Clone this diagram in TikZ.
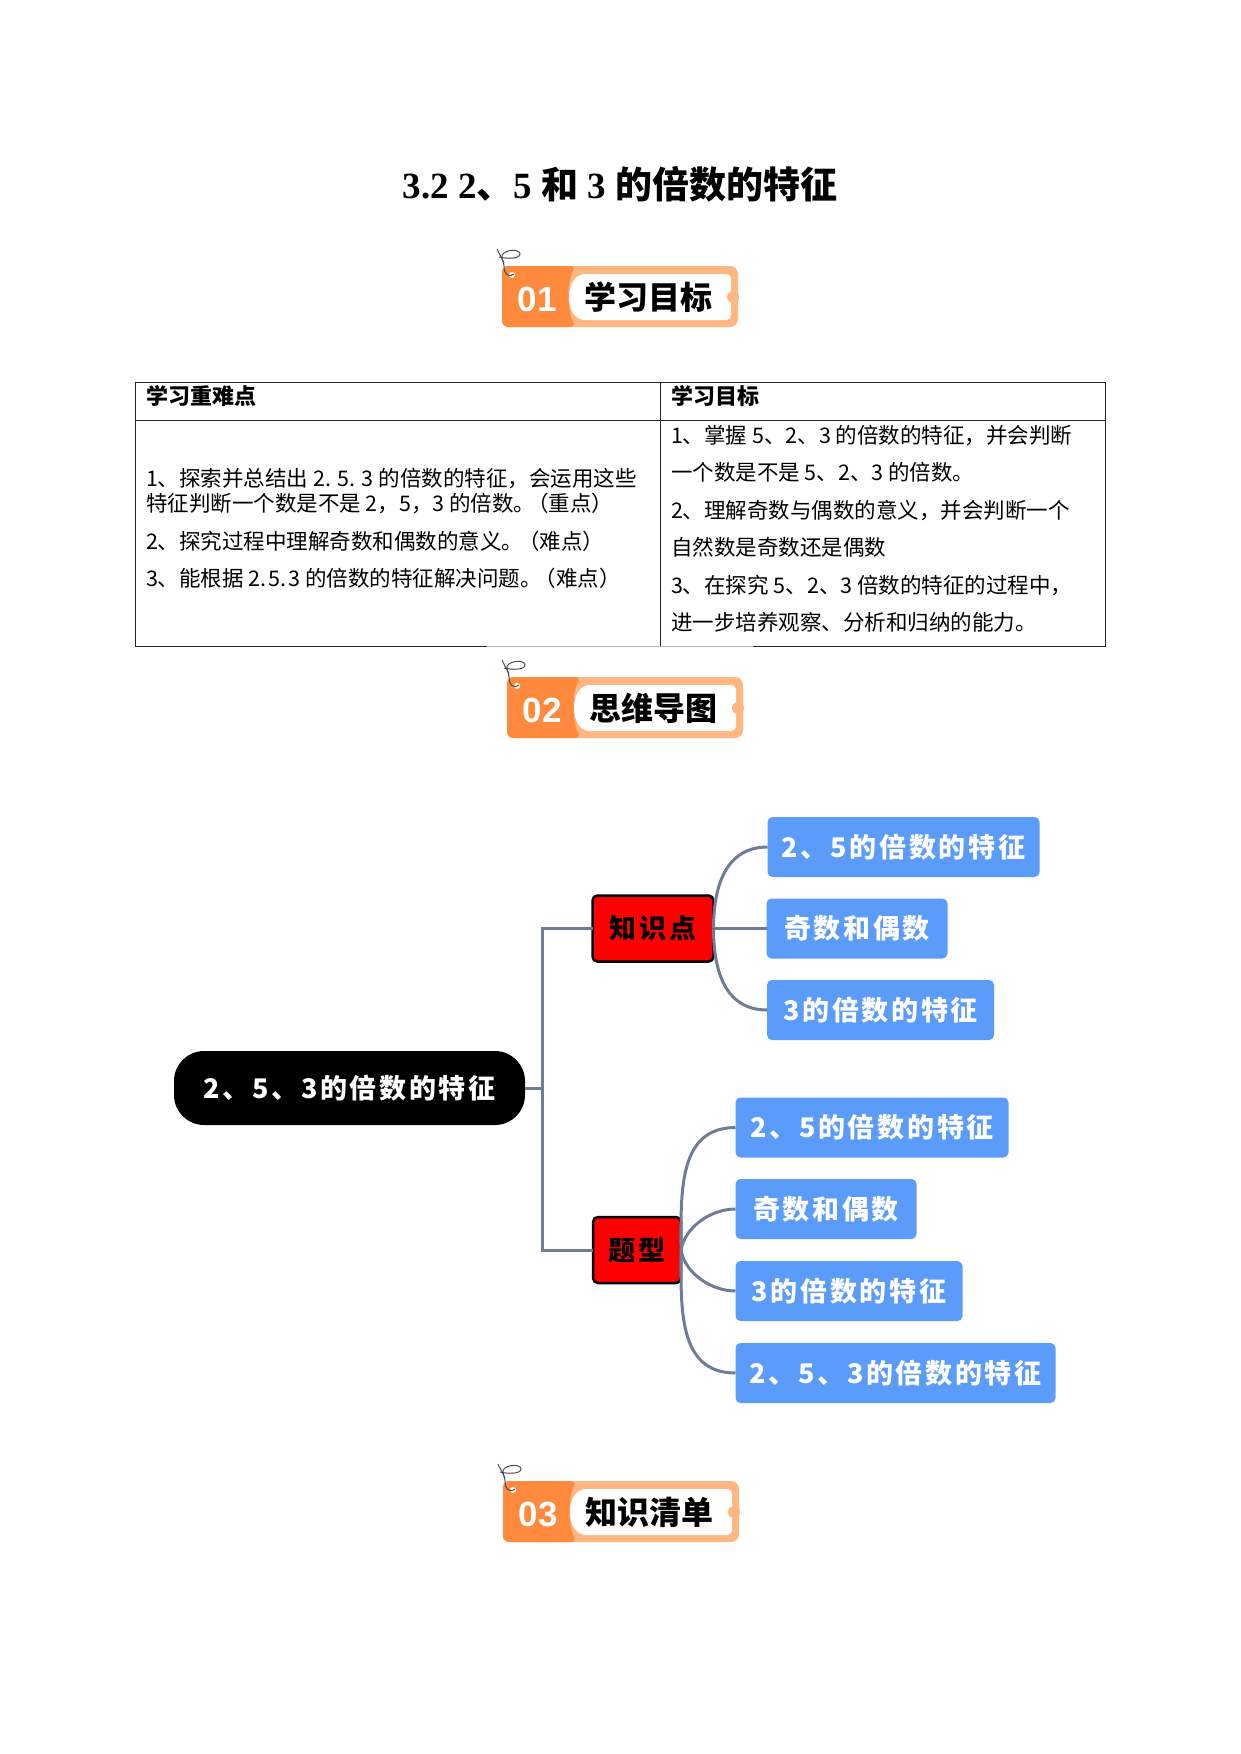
\documentclass[tikz,border=0pt]{standalone}
\usepackage{fontspec}
\setmainfont{Liberation Serif}
\newfontfamily\cjk{Noto Sans CJK SC}
\newfontfamily\cjkmm[LetterSpace=10]{Noto Sans CJK SC}
\newfontfamily\badgenum{Liberation Sans}
\definecolor{bdark}{HTML}{FF8A3D}
\definecolor{blight}{HTML}{FFB680}
\definecolor{mmblue}{HTML}{5B9BFA}
\definecolor{mmline}{HTML}{6E7B99}
\tikzset{
  every node/.style={inner sep=0pt, outer sep=0pt},
  titletext/.style={font=\fontsize{37}{37}\selectfont\bfseries},
  badgetext/.style={font=\cjk\fontsize{32}{32}\selectfont\bfseries, text=black},
  badgenumber/.style={font=\badgenum\fontsize{35}{35}\selectfont\bfseries, text=white},
  tabtext/.style={anchor=west, font=\cjk\fontsize{21.5}{22}\selectfont, text height=18pt, text depth=2pt},
  tabhead/.style={tabtext, font=\cjk\fontsize{22}{22}\selectfont\bfseries},
  rootbox/.style={fill=black, rounded corners=30pt, text=white, minimum width=351pt, minimum height=74pt, font=\cjkmm\fontsize{27}{27}\selectfont\bfseries},
  redbox/.style={fill=red, draw=black, line width=2.5pt, rounded corners=5pt, text=black, minimum height=66pt, font=\cjkmm\fontsize{27}{27}\selectfont\bfseries},
  bluebox/.style={fill=mmblue, rounded corners=5pt, text=white, minimum height=60pt, font=\cjkmm\fontsize{27}{27}\selectfont\bfseries},
  link/.style={draw=mmline, line width=3pt},
  curl/.style={draw=black!70, line width=1pt},
  rule/.style={draw=black!85, line width=1pt}
}
\newcommand{\badge}[4]{%
  \begin{scope}[shift={(#2,#3)}]
    \fill[blight, rounded corners=8pt] (0,0) rectangle (236,61);
    \fill[bdark, rounded corners=6pt] (0,0) -- (74,0) .. controls (65,15) and (65,45) .. (74,61) -- (0,61) -- cycle;
    \fill[white] (83,8) .. controls (72,8) and (67,20) .. (67,31) .. controls (67,42) and (72,54) .. (83,54) -- (223,54) .. controls (227,54) and (229,52) .. (229,48) -- (229,14) .. controls (229,10) and (227,8) .. (223,8) -- cycle;
    \fill[blight] (231,31) circle (6pt);
    \fill[white] (10,9) circle (3pt);
    \draw[curl] (12,8) .. controls (6,12) and (2,8) .. (2,0) .. controls (2,-6) and (-2,-10) .. (-5,-17);
    \draw[curl] (-3,-9) .. controls (5,-7) and (18,-7) .. (18,-12) .. controls (18,-17) and (4,-17) .. (0,-11) .. controls (-1,-8) and (1,-5) .. (2,-3);
    \node[badgenumber] (#1num) at (35,33) {#1};
    \node[badgetext] (#1txt) at (146,31) {#4};
  \end{scope}}
\begin{document}
\begin{tikzpicture}[x=1pt,y=-1pt]
\useasboundingbox (0,0) rectangle (1241,1754);
\fill[white] (0,0) rectangle (1241,1754);

\node[titletext] (title) at (620,184) {3.2 2{\cjk 、}5 {\cjk 和} 3 {\cjk 的倍数的特征}};

\badge{01}{502}{266}{学习目标}
\badge{02}{507}{677}{思维导图}
\badge{03}{503}{1481}{知识清单}

% table
\draw[rule] (135,646) -- (135,382) -- (1105,382) -- (1105,646) -- (753,646);
\draw[rule] (487,646) -- (135,646);
\draw[black!30, line width=1pt] (487,646) -- (753,646);
\draw[rule] (135,420) -- (1105,420);
\draw[rule] (660,382) -- (660,646);

\node[tabhead] (h1) at (146,396) {学习重难点};
\node[tabhead] (h2) at (671,396) {学习目标};

\node[tabtext] (l1) at (146,478) {1、探索并总结出 2. 5. 3 的倍数的特征，会运用这些};
\node[tabtext] (l2) at (146,503) {特征判断一个数是不是 2，5，3 的倍数。\kern-8pt（重点）};
\node[tabtext] (l3) at (146,541) {2、探究过程中理解奇数和偶数的意义。\kern-5pt（难点）};
\node[tabtext] (l4) at (146,578) {3、能根据 2.\kern2pt 5.\kern2pt 3 的倍数的特征解决问题。\kern-7pt（难点）};

\node[tabtext] (r1) at (671,435) {1、掌握 5、2、3 的倍数的特征，并会判断};
\node[tabtext] (r2) at (671,472) {一个数是不是 5、2、3 的倍数。};
\node[tabtext] (r3) at (671,510) {2、理解奇数与偶数的意义，并会判断一个};
\node[tabtext] (r4) at (671,547) {自然数是奇数还是偶数};
\node[tabtext] (r5) at (671,585) {3、在探究 5、2、3 倍数的特征的过程中，};
\node[tabtext] (r6) at (671,622) {进一步培养观察、分析和归纳的能力。};

% mind map nodes
\node[rootbox] (root) at (349.5,1088) {2、5、3的倍数的特征};
\node[redbox, minimum width=121pt] (k) at (653,928.5) {知识点};
\node[redbox, minimum width=88pt] (t) at (637,1250) {题型};
\coordinate (trunk) at (542,1088);

\node[bluebox, minimum width=272pt] (k1) at (903.5,847) {2、5的倍数的特征};
\node[bluebox, minimum width=181pt] (k2) at (857,928.5) {奇数和偶数};
\node[bluebox, minimum width=227pt] (k3) at (880.5,1010) {3的倍数的特征};
\node[bluebox, minimum width=273pt] (t1) at (872,1127.5) {2、5的倍数的特征};
\node[bluebox, minimum width=181pt] (t2) at (826,1209) {奇数和偶数};
\node[bluebox, minimum width=227pt] (t3) at (849,1291) {3的倍数的特征};
\node[bluebox, minimum width=320pt] (t4) at (895.5,1373) {2、5、3的倍数的特征};

% connectors
\draw[link] (root.east) -- (trunk) |- (k.west);
\draw[link] (trunk) |- (t.west);
\draw[link] (k.east) to[out=90,in=180,looseness=1.1] (k1.west);
\draw[link] (k.east) -- (k2.west);
\draw[link] (k.east) to[out=-90,in=180,looseness=1.1] (k3.west);
\draw[link] (t.east) to[out=90,in=180,looseness=1.1] (t1.west);
\draw[link] (t.east) to[out=80,in=180,looseness=0.9] (t2.west);
\draw[link] (t.east) to[out=-80,in=180,looseness=0.9] (t3.west);
\draw[link] (t.east) to[out=-90,in=180,looseness=1.1] (t4.west);
\end{tikzpicture}
\end{document}
